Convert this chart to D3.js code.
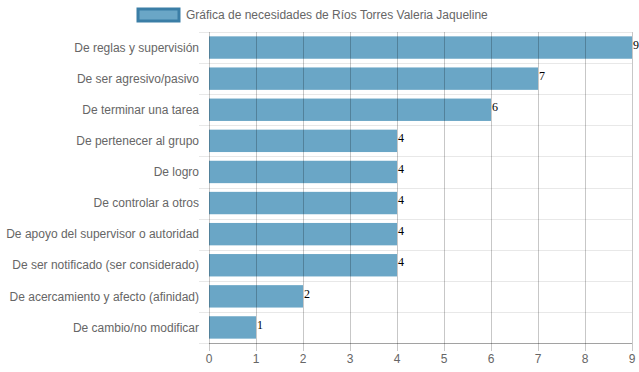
<!DOCTYPE html>
<html>
<head>
<meta charset="utf-8">
<script src="https://cdn.jsdelivr.net/npm/d3@7"></script>
<style>
  body { margin: 0; background: #fff; }
  svg { font-family: "Liberation Sans", Arial, sans-serif; }
</style>
</head>
<body>
<div id="chart"></div>
<script>
const categories = [
  "De reglas y supervisión",
  "De ser agresivo/pasivo",
  "De terminar una tarea",
  "De pertenecer al grupo",
  "De logro",
  "De controlar a otros",
  "De apoyo del supervisor o autoridad",
  "De ser notificado (ser considerado)",
  "De acercamiento y afecto (afinidad)",
  "De cambio/no modificar"
]
const values = [9, 7, 6, 4, 4, 4, 4, 4, 2, 1]
const xTicks = [0, 1, 2, 3, 4, 5, 6, 7, 8, 9]
const legendLabel = "Gráfica de necesidades de Ríos Torres Valeria Jaqueline"

const W = 639, H = 372
const margin = {top: 32, right: 7, bottom: 29, left: 209}
const width = W - margin.left - margin.right,
      height = H - margin.top - margin.bottom

const svg = d3.select("#chart").append("svg")
  .attr("width", W).attr("height", H)

// legend
const lg = svg.append("g").attr("transform", "translate(137,8)")
lg.append("rect").attr("x", 1).attr("y", 1).attr("width", 41).attr("height", 12)
  .attr("fill", "#6aa6c6").attr("stroke", "#3b7ea6").attr("stroke-width", 3)
lg.append("text").attr("x", 49).attr("y", 7).attr("dy", "0.35em")
  .attr("font-size", 12).attr("fill", "#666").text(legendLabel)

const g = svg.append("g").attr("transform", `translate(${margin.left},${margin.top})`)

const x = d3.scaleLinear().domain([0, 9]).range([0, width])
const y = d3.scaleBand().domain(categories).range([0, height])

// horizontal grid (between categories)
const hLines = d3.range(categories.length + 1).map(i => i * y.step())
g.selectAll(".hgrid").data(hLines).join("line")
  .attr("x1", -10).attr("x2", width)
  .attr("y1", d => Math.round(d) + 0.5).attr("y2", d => Math.round(d) + 0.5)
  .attr("stroke", "#e8e8e8")

// bars
const barH = y.bandwidth() * 0.72
g.selectAll(".bar").data(values).join("rect")
  .attr("x", x(0))
  .attr("y", (d, i) => y(categories[i]) + (y.bandwidth() - barH) / 2)
  .attr("width", d => x(d))
  .attr("height", barH)
  .attr("fill", "#6aa6c6")

// vertical grid
g.selectAll(".vgrid").data(xTicks).join("line")
  .attr("x1", d => Math.round(x(d)) + 0.5).attr("x2", d => Math.round(x(d)) + 0.5)
  .attr("y1", 0).attr("y2", height + 8)
  .attr("stroke", "rgba(0,0,0,0.22)")

// x axis line
g.append("line").attr("x1", 0).attr("x2", width)
  .attr("y1", height + 0.5).attr("y2", height + 0.5)
  .attr("stroke", "rgba(0,0,0,0.3)")

// x tick labels
g.selectAll(".xt").data(xTicks).join("text")
  .attr("x", d => x(d)).attr("y", height + 20)
  .attr("text-anchor", "middle").attr("font-size", 12).attr("fill", "#666")
  .text(d => d)

// y labels
g.selectAll(".yt").data(categories).join("text")
  .attr("x", -10).attr("y", d => y(d) + y.bandwidth() / 2)
  .attr("dy", "0.35em").attr("text-anchor", "end")
  .attr("font-size", 12).attr("fill", "#666")
  .text(d => d)

// value labels
g.selectAll(".val").data(values).join("text")
  .attr("x", d => x(d) + 1)
  .attr("y", (d, i) => y(categories[i]) + y.bandwidth() / 2)
  .attr("dy", "0.1em")
  .attr("font-family", "'Liberation Serif', 'Times New Roman', serif")
  .attr("font-size", 12).attr("fill", "#000")
  .text(d => d)
</script>
</body>
</html>
